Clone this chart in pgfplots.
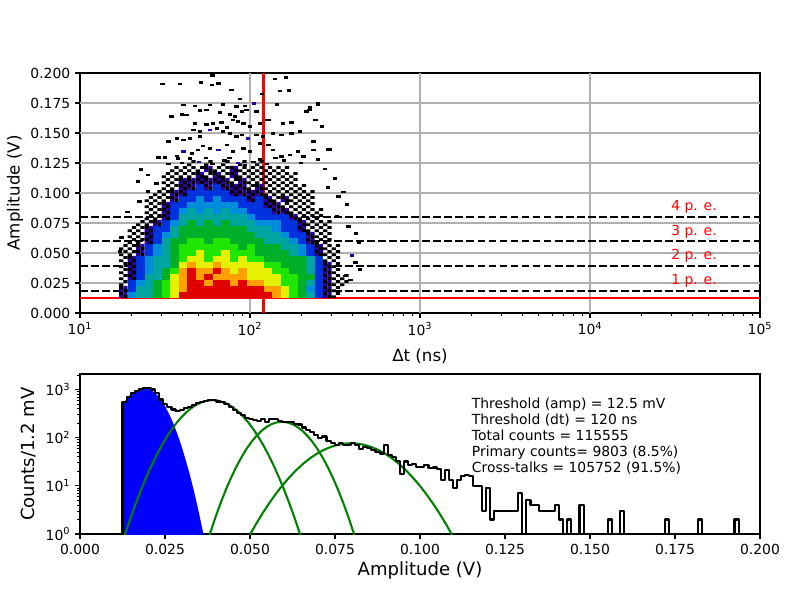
\documentclass[border=0pt]{standalone}
\usepackage{pgfplots}
\pgfplotsset{compat=1.18}
\usepackage{pgfplotstable}
\usepackage{fontspec}
\setmainfont{DejaVu Sans}
\definecolor{gridc}{HTML}{B0B0B0}
\definecolor{mplgreen}{rgb}{0,0.5,0}
\pgfdeclareplotmark{cell}{\pgfpathrectangle{\pgfpoint{-3.1pt}{-2.2pt}}{\pgfpoint{6.2pt}{4.4pt}}\pgfusepathqfill}
\pgfdeclareplotmark{speckle}{\pgfpathrectangle{\pgfpoint{-3.1pt}{-2.2pt}}{\pgfpoint{3.1pt}{2.0pt}}\pgfpathrectangle{\pgfpoint{0pt}{0.1pt}}{\pgfpoint{3.1pt}{2.0pt}}\pgfusepathqfill}
\pgfdeclareplotmark{mix}{\pgfpathrectangle{\pgfpoint{-3.1pt}{-2.2pt}}{\pgfpoint{3.15pt}{2.25pt}}\pgfpathrectangle{\pgfpoint{0pt}{0pt}}{\pgfpoint{3.1pt}{2.2pt}}\pgfusepathqfill
\begin{pgfscope}\pgfsetfillcolor{black}\pgfpathrectangle{\pgfpoint{0pt}{-2.2pt}}{\pgfpoint{3.1pt}{2.25pt}}\pgfpathrectangle{\pgfpoint{-3.1pt}{0pt}}{\pgfpoint{3.15pt}{2.2pt}}\pgfusepathqfill\end{pgfscope}}
\pgfdeclareplotmark{spdash}{\pgfpathrectangle{\pgfpoint{-1.55pt}{-0.88pt}}{\pgfpoint{3.1pt}{1.76pt}}\pgfusepathqfill}

\pgfplotstableread[row sep=\\]{
x y c\\
1.255 0.015 1\\ 1.305 0.015 3\\ 1.355 0.015 4\\ 1.405 0.015 4\\ 1.455 0.015 5\\ 1.505 0.015 6\\ 1.555 0.015 7\\ 1.605 0.015 9\\ 1.655 0.015 9\\ 1.705 0.015 9\\ 1.755 0.015 9\\ 1.805 0.015 9\\ 1.855 0.015 9\\ 1.905 0.015 9\\ 1.955 0.015 9\\ 2.005 0.015 9\\ 2.055 0.015 9\\ 2.105 0.015 9\\ 2.155 0.015 8\\ 2.205 0.015 7\\ 2.255 0.015 6\\ 2.305 0.015 5\\ 2.355 0.015 4\\ 2.405 0.015 2\\ 2.455 0.015 1\\ 2.505 0.015 0\\
1.255 0.020 1\\ 1.305 0.020 2\\ 1.355 0.020 4\\ 1.405 0.020 4\\ 1.455 0.020 5\\ 1.505 0.020 6\\ 1.555 0.020 7\\ 1.605 0.020 8\\ 1.655 0.020 9\\ 1.705 0.020 9\\ 1.755 0.020 9\\ 1.805 0.020 9\\ 1.855 0.020 9\\ 1.905 0.020 9\\ 1.955 0.020 9\\ 2.005 0.020 9\\ 2.055 0.020 9\\ 2.105 0.020 8\\ 2.155 0.020 8\\ 2.205 0.020 7\\ 2.255 0.020 6\\ 2.305 0.020 5\\ 2.355 0.020 3\\ 2.405 0.020 2\\ 2.455 0.020 1\\ 2.505 0.020 0\\
1.255 0.025 0\\ 1.305 0.025 2\\ 1.355 0.025 3\\ 1.405 0.025 4\\ 1.455 0.025 5\\ 1.505 0.025 6\\ 1.555 0.025 7\\ 1.605 0.025 8\\ 1.655 0.025 9\\ 1.705 0.025 9\\ 1.755 0.025 8\\ 1.805 0.025 9\\ 1.855 0.025 9\\ 1.905 0.025 8\\ 1.955 0.025 9\\ 2.005 0.025 8\\ 2.055 0.025 8\\ 2.105 0.025 7\\ 2.155 0.025 7\\ 2.205 0.025 6\\ 2.255 0.025 6\\ 2.305 0.025 5\\ 2.355 0.025 4\\ 2.405 0.025 2\\ 2.455 0.025 1\\ 2.505 0.025 0\\ 2.555 0.025 0\\
1.255 0.030 0\\ 1.305 0.030 1\\ 1.355 0.030 2\\ 1.405 0.030 4\\ 1.455 0.030 4\\ 1.505 0.030 5\\ 1.555 0.030 7\\ 1.605 0.030 8\\ 1.655 0.030 9\\ 1.705 0.030 8\\ 1.755 0.030 9\\ 1.805 0.030 8\\ 1.855 0.030 8\\ 1.905 0.030 8\\ 1.955 0.030 8\\ 2.005 0.030 7\\ 2.055 0.030 7\\ 2.105 0.030 7\\ 2.155 0.030 7\\ 2.205 0.030 6\\ 2.255 0.030 6\\ 2.305 0.030 5\\ 2.355 0.030 5\\ 2.405 0.030 2\\ 2.455 0.030 1\\ 2.505 0.030 0\\ 2.555 0.030 0\\
1.255 0.035 0\\ 1.305 0.035 1\\ 1.355 0.035 2\\ 1.405 0.035 3\\ 1.455 0.035 4\\ 1.505 0.035 5\\ 1.555 0.035 6\\ 1.605 0.035 8\\ 1.655 0.035 9\\ 1.705 0.035 8\\ 1.755 0.035 8\\ 1.805 0.035 9\\ 1.855 0.035 8\\ 1.905 0.035 7\\ 1.955 0.035 8\\ 2.005 0.035 7\\ 2.055 0.035 7\\ 2.105 0.035 7\\ 2.155 0.035 6\\ 2.205 0.035 6\\ 2.255 0.035 5\\ 2.305 0.035 5\\ 2.355 0.035 4\\ 2.405 0.035 2\\ 2.455 0.035 1\\ 2.505 0.035 0\\
1.255 0.040 0\\ 1.305 0.040 1\\ 1.355 0.040 2\\ 1.405 0.040 3\\ 1.455 0.040 4\\ 1.505 0.040 4\\ 1.555 0.040 5\\ 1.605 0.040 7\\ 1.655 0.040 8\\ 1.705 0.040 7\\ 1.755 0.040 7\\ 1.805 0.040 8\\ 1.855 0.040 7\\ 1.905 0.040 7\\ 1.955 0.040 7\\ 2.005 0.040 7\\ 2.055 0.040 7\\ 2.105 0.040 6\\ 2.155 0.040 6\\ 2.205 0.040 5\\ 2.255 0.040 5\\ 2.305 0.040 5\\ 2.355 0.040 4\\ 2.405 0.040 2\\ 2.455 0.040 1\\ 2.505 0.040 0\\
1.255 0.045 0\\ 1.305 0.045 1\\ 1.355 0.045 2\\ 1.405 0.045 3\\ 1.455 0.045 4\\ 1.505 0.045 4\\ 1.555 0.045 5\\ 1.605 0.045 6\\ 1.655 0.045 7\\ 1.705 0.045 7\\ 1.755 0.045 6\\ 1.805 0.045 7\\ 1.855 0.045 7\\ 1.905 0.045 6\\ 1.955 0.045 7\\ 2.005 0.045 6\\ 2.055 0.045 6\\ 2.105 0.045 5\\ 2.155 0.045 5\\ 2.205 0.045 5\\ 2.255 0.045 5\\ 2.305 0.045 5\\ 2.355 0.045 4\\ 2.405 0.045 2\\ 2.455 0.045 0\\ 2.505 0.045 0\\
1.255 0.050 0\\ 1.305 0.050 0\\ 1.355 0.050 1\\ 1.405 0.050 2\\ 1.455 0.050 3\\ 1.505 0.050 4\\ 1.555 0.050 5\\ 1.605 0.050 6\\ 1.655 0.050 6\\ 1.705 0.050 7\\ 1.755 0.050 6\\ 1.805 0.050 6\\ 1.855 0.050 7\\ 1.905 0.050 6\\ 1.955 0.050 6\\ 2.005 0.050 6\\ 2.055 0.050 5\\ 2.105 0.050 5\\ 2.155 0.050 5\\ 2.205 0.050 5\\ 2.255 0.050 4\\ 2.305 0.050 3\\ 2.355 0.050 2\\ 2.405 0.050 1\\ 2.455 0.050 0\\ 2.505 0.050 0\\
1.255 0.055 0\\ 1.305 0.055 0\\ 1.355 0.055 1\\ 1.405 0.055 2\\ 1.455 0.055 3\\ 1.505 0.055 4\\ 1.555 0.055 5\\ 1.605 0.055 6\\ 1.655 0.055 6\\ 1.705 0.055 6\\ 1.755 0.055 6\\ 1.805 0.055 6\\ 1.855 0.055 6\\ 1.905 0.055 6\\ 1.955 0.055 5\\ 2.005 0.055 6\\ 2.055 0.055 5\\ 2.105 0.055 5\\ 2.155 0.055 5\\ 2.205 0.055 4\\ 2.255 0.055 4\\ 2.305 0.055 3\\ 2.355 0.055 2\\ 2.405 0.055 1\\ 2.455 0.055 0\\ 2.505 0.055 0\\
1.305 0.060 0\\ 1.355 0.060 0\\ 1.405 0.060 1\\ 1.455 0.060 2\\ 1.505 0.060 4\\ 1.555 0.060 5\\ 1.605 0.060 5\\ 1.655 0.060 6\\ 1.705 0.060 6\\ 1.755 0.060 5\\ 1.805 0.060 6\\ 1.855 0.060 6\\ 1.905 0.060 5\\ 1.955 0.060 5\\ 2.005 0.060 5\\ 2.055 0.060 5\\ 2.105 0.060 4\\ 2.155 0.060 4\\ 2.205 0.060 4\\ 2.255 0.060 3\\ 2.305 0.060 2\\ 2.355 0.060 1\\ 2.405 0.060 0\\ 2.455 0.060 0\\
1.305 0.065 0\\ 1.355 0.065 0\\ 1.405 0.065 1\\ 1.455 0.065 2\\ 1.505 0.065 3\\ 1.555 0.065 4\\ 1.605 0.065 5\\ 1.655 0.065 5\\ 1.705 0.065 5\\ 1.755 0.065 5\\ 1.805 0.065 5\\ 1.855 0.065 5\\ 1.905 0.065 5\\ 1.955 0.065 5\\ 2.005 0.065 5\\ 2.055 0.065 4\\ 2.105 0.065 4\\ 2.155 0.065 4\\ 2.205 0.065 3\\ 2.255 0.065 2\\ 2.305 0.065 2\\ 2.355 0.065 1\\ 2.405 0.065 0\\ 2.455 0.065 0\\
1.305 0.070 0\\ 1.355 0.070 0\\ 1.405 0.070 1\\ 1.455 0.070 2\\ 1.505 0.070 2\\ 1.555 0.070 4\\ 1.605 0.070 5\\ 1.655 0.070 5\\ 1.705 0.070 5\\ 1.755 0.070 5\\ 1.805 0.070 5\\ 1.855 0.070 5\\ 1.905 0.070 5\\ 1.955 0.070 5\\ 2.005 0.070 4\\ 2.055 0.070 4\\ 2.105 0.070 4\\ 2.155 0.070 3\\ 2.205 0.070 2\\ 2.255 0.070 2\\ 2.305 0.070 1\\ 2.355 0.070 0\\ 2.405 0.070 0\\ 2.455 0.070 0\\
1.355 0.075 0\\ 1.405 0.075 0\\ 1.455 0.075 1\\ 1.505 0.075 2\\ 1.555 0.075 3\\ 1.605 0.075 4\\ 1.655 0.075 5\\ 1.705 0.075 4\\ 1.755 0.075 5\\ 1.805 0.075 4\\ 1.855 0.075 5\\ 1.905 0.075 4\\ 1.955 0.075 4\\ 2.005 0.075 4\\ 2.055 0.075 3\\ 2.105 0.075 3\\ 2.155 0.075 3\\ 2.205 0.075 2\\ 2.255 0.075 2\\ 2.305 0.075 1\\ 2.355 0.075 0\\ 2.405 0.075 0\\ 2.455 0.075 0\\
1.405 0.080 0\\ 1.455 0.080 0\\ 1.505 0.080 1\\ 1.555 0.080 2\\ 1.605 0.080 4\\ 1.655 0.080 4\\ 1.705 0.080 4\\ 1.755 0.080 4\\ 1.805 0.080 4\\ 1.855 0.080 4\\ 1.905 0.080 4\\ 1.955 0.080 4\\ 2.005 0.080 3\\ 2.055 0.080 2\\ 2.105 0.080 2\\ 2.155 0.080 2\\ 2.205 0.080 2\\ 2.255 0.080 1\\ 2.305 0.080 0\\ 2.355 0.080 0\\ 2.405 0.080 0\\
1.405 0.085 0\\ 1.455 0.085 0\\ 1.505 0.085 1\\ 1.555 0.085 2\\ 1.605 0.085 3\\ 1.655 0.085 4\\ 1.705 0.085 3\\ 1.755 0.085 4\\ 1.805 0.085 3\\ 1.855 0.085 4\\ 1.905 0.085 3\\ 1.955 0.085 3\\ 2.005 0.085 2\\ 2.055 0.085 2\\ 2.105 0.085 2\\ 2.155 0.085 1\\ 2.205 0.085 1\\ 2.255 0.085 0\\ 2.305 0.085 0\\ 2.355 0.085 0\\ 2.405 0.085 0\\
1.405 0.090 0\\ 1.455 0.090 0\\ 1.505 0.090 1\\ 1.555 0.090 2\\ 1.605 0.090 2\\ 1.655 0.090 3\\ 1.705 0.090 3\\ 1.755 0.090 3\\ 1.805 0.090 3\\ 1.855 0.090 3\\ 1.905 0.090 3\\ 1.955 0.090 2\\ 2.005 0.090 2\\ 2.055 0.090 2\\ 2.105 0.090 1\\ 2.155 0.090 1\\ 2.205 0.090 0\\ 2.255 0.090 0\\ 2.305 0.090 0\\ 2.355 0.090 0\\
1.405 0.095 0\\ 1.455 0.095 0\\ 1.505 0.095 0\\ 1.555 0.095 1\\ 1.605 0.095 2\\ 1.655 0.095 2\\ 1.705 0.095 3\\ 1.755 0.095 2\\ 1.805 0.095 3\\ 1.855 0.095 2\\ 1.905 0.095 2\\ 1.955 0.095 2\\ 2.005 0.095 1\\ 2.055 0.095 2\\ 2.105 0.095 1\\ 2.155 0.095 0\\ 2.205 0.095 1\\ 2.255 0.095 0\\ 2.305 0.095 0\\ 2.355 0.095 0\\
1.455 0.100 0\\ 1.505 0.100 0\\ 1.555 0.100 1\\ 1.605 0.100 1\\ 1.655 0.100 2\\ 1.705 0.100 2\\ 1.755 0.100 2\\ 1.805 0.100 2\\ 1.855 0.100 2\\ 1.905 0.100 1\\ 1.955 0.100 1\\ 2.005 0.100 1\\ 2.055 0.100 1\\ 2.105 0.100 0\\ 2.155 0.100 0\\ 2.205 0.100 0\\ 2.255 0.100 0\\ 2.305 0.100 0\\ 2.355 0.100 0\\
1.505 0.105 0\\ 1.555 0.105 0\\ 1.605 0.105 1\\ 1.655 0.105 1\\ 1.705 0.105 2\\ 1.755 0.105 1\\ 1.805 0.105 2\\ 1.855 0.105 1\\ 1.905 0.105 1\\ 1.955 0.105 1\\ 2.005 0.105 0\\ 2.055 0.105 1\\ 2.105 0.105 0\\ 2.155 0.105 0\\ 2.205 0.105 0\\ 2.255 0.105 0\\ 2.305 0.105 0\\
1.505 0.110 0\\ 1.555 0.110 0\\ 1.605 0.110 1\\ 1.655 0.110 1\\ 1.705 0.110 1\\ 1.755 0.110 1\\ 1.805 0.110 1\\ 1.855 0.110 1\\ 1.905 0.110 0\\ 1.955 0.110 1\\ 2.005 0.110 0\\ 2.055 0.110 0\\ 2.105 0.110 0\\ 2.155 0.110 0\\ 2.205 0.110 0\\ 2.255 0.110 0\\
1.505 0.115 0\\ 1.555 0.115 0\\ 1.605 0.115 0\\ 1.655 0.115 0\\ 1.705 0.115 1\\ 1.755 0.115 0\\ 1.805 0.115 1\\ 1.855 0.115 0\\ 1.905 0.115 1\\ 1.955 0.115 0\\ 2.005 0.115 0\\ 2.055 0.115 0\\ 2.105 0.115 0\\ 2.155 0.115 0\\ 2.205 0.115 0\\ 2.255 0.115 0\\
1.555 0.120 0\\ 1.605 0.120 0\\ 1.655 0.120 0\\ 1.705 0.120 0\\ 1.755 0.120 1\\ 1.805 0.120 0\\ 1.855 0.120 0\\ 1.905 0.120 1\\ 1.955 0.120 0\\ 2.005 0.120 0\\ 2.055 0.120 0\\ 2.105 0.120 0\\ 2.155 0.120 0\\ 2.205 0.120 0\\
1.655 0.125 0\\ 1.755 0.125 0\\ 1.855 0.125 0\\ 1.955 0.125 0\\ 2.055 0.125 0\\
}\hm

\pgfplotstableread[row sep=\\]{
x y c\\
1.780 0.1978 0\\ 2.147 0.1950 0\\ 2.210 0.1964 0\\ 1.486 0.1908 0\\ 1.588 0.1908 0\\ 1.712 0.1919 0\\ 1.778 0.1900 0\\ 1.814 0.1914 0\\ 1.892 0.1858 0\\ 2.176 0.1850 0\\ 2.229 0.1853 0\\ 2.069 0.1825 0\\ 1.941 0.1783 0\\
1.608 0.1733 0\\ 1.676 0.1725 0\\ 1.765 0.1733 0\\ 1.843 0.1739 0\\ 1.921 0.1719 0\\ 1.971 0.1725 0\\ 2.023 0.1747 1\\ 2.157 0.1739 0\\ 2.353 0.1714 0\\ 2.402 0.1739 0\\
1.598 0.1656 0\\ 1.706 0.1686 0\\ 1.745 0.1692 0\\ 1.823 0.1669 0\\ 1.882 0.1656 0\\ 1.912 0.1636 0\\ 1.951 0.1678 0\\ 1.980 0.1692 0\\ 2.039 0.1678 0\\ 2.098 0.1608 0\\ 2.196 0.1581 0\\ 2.245 0.1589 0\\ 2.333 0.1678 0\\ 2.382 0.1608 0\\ 2.422 0.1553 0\\
1.539 0.1636 0\\ 1.627 0.1650 0\\ 1.676 0.1581 0\\ 1.745 0.1572 0\\ 1.784 0.1581 0\\ 1.833 0.1586 0\\ 1.863 0.1547 0\\ 1.902 0.1608 0\\ 1.931 0.1594 0\\ 1.961 0.1581 0\\ 2.000 0.1553 0\\ 2.059 0.1581 0\\ 2.108 0.1608 0\\ 2.294 0.1511 0\\
1.667 0.1525 0\\ 1.706 0.1511 0\\ 1.765 0.1525 1\\ 1.804 0.1539 0\\ 1.843 0.1511 0\\ 1.882 0.1497 0\\ 1.921 0.1469 0\\ 1.951 0.1483 0\\ 1.990 0.1456 1\\ 2.039 0.1483 0\\ 2.078 0.1469 0\\ 2.137 0.1497 0\\ 2.186 0.1483 0\\ 2.245 0.1497 0\\ 2.373 0.1428 0\\ 2.470 0.1364 0\\
1.520 0.1428 0\\ 1.569 0.1456 0\\ 1.608 0.1442 0\\ 1.647 0.1456 0\\ 1.706 0.1469 0\\ 1.461 0.1297 0\\ 1.500 0.1297 0\\ 1.569 0.1308 0\\ 1.608 0.1344 1\\ 1.657 0.1331 0\\ 1.696 0.1358 0\\ 1.725 0.1392 0\\ 1.765 0.1372 0\\ 1.814 0.1358 1\\ 1.863 0.1400 0\\ 1.902 0.1344 0\\ 1.961 0.1372 0\\ 2.000 0.1344 0\\ 2.059 0.1414 0\\ 2.108 0.1400 0\\ 2.137 0.1358 0\\ 2.186 0.1303 0\\ 2.235 0.1317 0\\ 2.284 0.1344 0\\ 2.314 0.1303 0\\ 2.373 0.1358 0\\ 1.647 0.1289 0\\ 1.578 0.1289 0\\
1.600 0.1250 0\\ 1.700 0.1260 1\\ 1.780 0.1240 0\\ 1.850 0.1270 0\\ 1.930 0.1250 1\\ 2.020 0.1260 0\\ 2.100 0.1240 0\\ 2.200 0.1270 0\\ 2.300 0.1250 0\\ 1.520 0.1240 0\\ 2.400 0.1280 0\\ 1.740 0.1235 0\\ 1.970 0.1235 0\\ 2.060 0.1280 0\\ 1.880 0.1290 0\\ 1.740 0.1290 0\\ 2.150 0.1290 0\\
1.245 0.0630 0\\ 1.235 0.0511 0\\ 1.360 0.1197 0\\ 1.343 0.1094 0\\ 1.400 0.1011 0\\ 2.569 0.0906 0\\ 2.520 0.0970 0\\ 2.623 0.0664 0\\ 2.641 0.0586 0\\ 2.647 0.0364 0\\ 2.592 0.0275 0\\ 2.560 0.0310 0\\ 2.510 0.0803 0\\ 2.460 0.1044 0\\ 2.460 0.1364 0\\ 2.400 0.1747 0\\ 2.390 0.1610 0\\ 2.350 0.1690 0\\ 2.370 0.1427 0\\ 2.550 0.1010 0\\ 2.500 0.1120 0\\ 2.440 0.1200 0\\ 1.400 0.1150 0\\ 1.280 0.0840 0\\ 2.600 0.0480 1\\ 2.580 0.0720 0\\ 1.350 0.0930 0\\ 1.450 0.1080 0\\ 2.620 0.0420 0\\
}\sparse

\begin{document}
\begin{tikzpicture}
\path[use as bounding box] (0,0) rectangle (576pt,432pt);
\pgfplotsset{
  mplstyle/.style={
    scale only axis, anchor=south west, width=489.6pt,
    tick pos=left, tick align=outside,
    major tick length=3.5pt, minor tick length=2pt,
    tick style={black, line width=0.8pt},
    minor tick style={black, line width=0.6pt},
    axis line style={line width=0.8pt},
    tick label style={font=\fontsize{10}{12}\selectfont},
    /pgf/number format/assume math mode=true,
  }
}
\begin{axis}[mplstyle,
  at={(57.6pt,206.64pt)}, height=172.8pt,
  xmin=1, xmax=5, ymin=0, ymax=0.2,
  xtick={1,2,3,4,5},
  xticklabels={10\textsuperscript{1},10\textsuperscript{2},10\textsuperscript{3},10\textsuperscript{4},10\textsuperscript{5}},
  minor xtick={1.301,1.477,1.602,1.699,1.778,1.845,1.903,1.954,2.301,2.477,2.602,2.699,2.778,2.845,2.903,2.954,3.301,3.477,3.602,3.699,3.778,3.845,3.903,3.954,4.301,4.477,4.602,4.699,4.778,4.845,4.903,4.954},
  ytick={0,0.025,0.05,0.075,0.1,0.125,0.15,0.175,0.2},
  yticklabel style={/pgf/number format/fixed,/pgf/number format/fixed zerofill,/pgf/number format/precision=3},
  xlabel={Δt (ns)}, ylabel={Amplitude (V)},
  label style={font=\fontsize{12}{14}\selectfont},
  xlabel style={at={(axis description cs:0.5,-0.179)}, anchor=center},
  ylabel style={at={(axis description cs:-0.0956,0.5)}, anchor=center},
  colormap={hm}{rgb255=(0,0,0) rgb255=(45,0,160) rgb255=(0,50,221) rgb255=(0,140,221) rgb255=(0,165,160) rgb255=(0,175,40) rgb255=(30,230,0) rgb255=(230,240,0) rgb255=(255,160,0) rgb255=(225,0,0)},
  point meta min=0, point meta max=9,
]
\addplot[scatter, only marks, mark=cell, point meta=explicit, restrict expr to domain={\thisrow{c}}{1.5:10}, scatter/use mapped color={draw=mapped color, fill=mapped color}] table[x=x, y=y, meta=c] {\hm};
\addplot[scatter, only marks, mark=mix, point meta=explicit, restrict expr to domain={\thisrow{c}}{0.5:1.5}, scatter/use mapped color={draw=mapped color, fill=mapped color}] table[x=x, y=y, meta=c] {\hm};
\addplot[only marks, mark=speckle, black, restrict expr to domain={\thisrow{c}}{-1:0.5}] table[x=x, y=y] {\hm};
\addplot[scatter, only marks, mark=spdash, point meta=explicit, scatter/use mapped color={draw=mapped color, fill=mapped color}] table[x=x, y=y, meta=c] {\sparse};
% grid
\addplot[gridc, line width=0.8pt] coordinates {(1,0.025) (5,0.025)};
\addplot[gridc, line width=0.8pt] coordinates {(1,0.05) (5,0.05)};
\addplot[gridc, line width=0.8pt] coordinates {(1,0.075) (5,0.075)};
\addplot[gridc, line width=0.8pt] coordinates {(1,0.1) (5,0.1)};
\addplot[gridc, line width=0.8pt] coordinates {(1,0.125) (5,0.125)};
\addplot[gridc, line width=0.8pt] coordinates {(1,0.15) (5,0.15)};
\addplot[gridc, line width=0.8pt] coordinates {(1,0.175) (5,0.175)};
\addplot[gridc, line width=0.8pt] coordinates {(2,0) (2,0.2)};
\addplot[gridc, line width=0.8pt] coordinates {(3,0) (3,0.2)};
\addplot[gridc, line width=0.8pt] coordinates {(4,0) (4,0.2)};
% p.e. levels
\addplot[black, line width=1.5pt, dash pattern=on 5.55pt off 2.4pt] coordinates {(1,0.0186) (5,0.0186)};
\addplot[black, line width=1.5pt, dash pattern=on 5.55pt off 2.4pt] coordinates {(1,0.0392) (5,0.0392)};
\addplot[black, line width=1.5pt, dash pattern=on 5.55pt off 2.4pt] coordinates {(1,0.0600) (5,0.0600)};
\addplot[black, line width=1.5pt, dash pattern=on 5.55pt off 2.4pt] coordinates {(1,0.0803) (5,0.0803)};
% thresholds
\addplot[red, line width=1.8pt] coordinates {(1,0.0125) (5,0.0125)};
\addplot[red, line width=1.8pt] coordinates {(2.0792,0) (2.0792,0.2)};
\node[red, anchor=base west, inner sep=0pt, font=\fontsize{10}{12}\selectfont] at (axis cs:4.477,0.0236) {1 p. e.};
\node[red, anchor=base west, inner sep=0pt, font=\fontsize{10}{12}\selectfont] at (axis cs:4.477,0.0442) {2 p. e.};
\node[red, anchor=base west, inner sep=0pt, font=\fontsize{10}{12}\selectfont] at (axis cs:4.477,0.0650) {3 p. e.};
\node[red, anchor=base west, inner sep=0pt, font=\fontsize{10}{12}\selectfont] at (axis cs:4.477,0.0853) {4 p. e.};
\end{axis}

\begin{axis}[mplstyle,
  at={(57.6pt,47.52pt)}, height=115.2pt,
  xmin=0, xmax=0.2, ymode=log, ymin=1, ymax=2100,
  xtick={0,0.025,0.05,0.075,0.1,0.125,0.15,0.175,0.2},
  xticklabel style={/pgf/number format/fixed,/pgf/number format/fixed zerofill,/pgf/number format/precision=3},
  ytick={1,10,100,1000},
  yticklabels={10\textsuperscript{0},10\textsuperscript{1},10\textsuperscript{2},10\textsuperscript{3}},
  minor ytick={2,3,4,5,6,7,8,9,20,30,40,50,60,70,80,90,200,300,400,500,600,700,800,900,2000},
  xlabel={Amplitude (V)}, ylabel={Counts/1.2 mV},
  label style={font=\fontsize{13}{15}\selectfont},
  xlabel style={at={(axis description cs:0.5,-0.231)}, anchor=center},
  ylabel style={at={(axis description cs:-0.0757,0.5)}, anchor=center},
]
\addplot[fill=blue, draw=none] coordinates {
(0.01226,0.5) (0.01226,470) (0.0130,545) (0.0140,680) (0.0150,800) (0.0160,880) (0.0170,960) (0.0180,1020) (0.0190,1055) (0.0200,1040) (0.0210,970) (0.0220,850) (0.0230,719) (0.0240,582) (0.0250,450) (0.0260,332) (0.0270,234) (0.0280,157) (0.0290,101) (0.0300,62) (0.0310,36) (0.0320,20.4) (0.0330,10.9) (0.0340,5.6) (0.0350,2.71) (0.0360,1.26) (0.0365,0.85) (0.0368,0.5)
} -- cycle;
\addplot[mplgreen, line width=1.5pt] coordinates {
(0.012,0.516) (0.0135,1.106) (0.015,2.27) (0.0165,4.46) (0.018,8.40) (0.0195,15.1) (0.021,26.1) (0.0225,43.1) (0.024,68.1) (0.0255,103.1) (0.027,149.3) (0.0285,207.1) (0.030,274.9) (0.0315,349.4) (0.033,425.2) (0.0345,495.3) (0.036,552.1) (0.0375,589.6) (0.039,602.6) (0.0405,589.6) (0.042,552.1) (0.0435,495.3) (0.045,425.2) (0.0465,349.4) (0.048,274.9) (0.0495,207.1) (0.051,149.3) (0.0525,103.1) (0.054,68.1) (0.0555,43.1) (0.057,26.1) (0.0585,15.1) (0.060,8.40) (0.0615,4.46) (0.063,2.27) (0.0645,1.106) (0.066,0.516)
};
\addplot[mplgreen, line width=1.5pt] coordinates {
(0.0369,0.508) (0.0384,1.107) (0.0399,2.29) (0.0414,4.47) (0.0429,8.30) (0.0444,14.58) (0.0459,24.3) (0.0474,38.3) (0.0489,57.4) (0.0504,81.3) (0.0519,109.3) (0.0534,139.1) (0.0549,167.9) (0.0564,192.0) (0.0579,208.1) (0.0594,213.8) (0.0609,208.1) (0.0624,192.0) (0.0639,167.9) (0.0654,139.1) (0.0669,109.3) (0.0684,81.3) (0.0699,57.4) (0.0714,38.3) (0.0729,24.3) (0.0744,14.58) (0.0759,8.30) (0.0774,4.47) (0.0789,2.29) (0.0804,1.107) (0.0819,0.508)
};
\addplot[mplgreen, line width=1.5pt] coordinates {
(0.0477,0.481) (0.0497,0.889) (0.0517,1.579) (0.0537,2.70) (0.0557,4.42) (0.0577,6.97) (0.0597,10.57) (0.0617,15.39) (0.0637,21.56) (0.0657,29.01) (0.0677,37.53) (0.0697,46.67) (0.0717,55.78) (0.0737,64.07) (0.0757,70.73) (0.0777,75.07) (0.0797,76.6) (0.0817,75.07) (0.0837,70.73) (0.0857,64.07) (0.0877,55.78) (0.0897,46.67) (0.0917,37.53) (0.0937,29.01) (0.0957,21.56) (0.0977,15.39) (0.0997,10.57) (0.1017,6.97) (0.1037,4.42) (0.1057,2.70) (0.1077,1.579) (0.1097,0.889) (0.1117,0.481)
};
\addplot[black, line width=1.5pt, const plot, line join=round] coordinates {
(0.0125,0.5) (0.0125,560) (0.0137,700) (0.0149,850) (0.0161,930) (0.0173,1030) (0.0185,1080) (0.0197,1090) (0.0209,1000) (0.0221,830) (0.0233,620) (0.0245,500) (0.0257,430) (0.0269,385) (0.0281,365) (0.0293,380) (0.0305,405) (0.0317,440) (0.0329,480) (0.0341,525) (0.0353,560) (0.0365,585) (0.0377,605) (0.0389,600) (0.0401,565) (0.0413,540) (0.0425,500) (0.0437,440) (0.0449,375) (0.0461,330) (0.0473,290) (0.0485,255) (0.0497,240) (0.0509,232) (0.0521,225) (0.0533,245) (0.0545,210) (0.0557,240) (0.0569,240) (0.0581,225) (0.0593,215) (0.0605,215) (0.0617,212) (0.0629,195) (0.0641,188) (0.0653,163) (0.0665,145) (0.0677,133) (0.0689,114) (0.0701,100) (0.0713,106) (0.0725,87) (0.0737,78) (0.0749,72) (0.0761,77) (0.0773,71) (0.0785,72) (0.0797,79) (0.0809,70) (0.0821,58) (0.0833,64) (0.0845,60) (0.0857,55) (0.0869,50) (0.0881,47) (0.0893,70) (0.0905,44) (0.0917,40) (0.0929,33) (0.0941,18) (0.0953,32) (0.0965,27) (0.0977,28) (0.0989,25) (0.1001,25) (0.1013,27) (0.1025,23) (0.1037,24) (0.1049,22) (0.1061,13) (0.1073,21) (0.1085,13) (0.1097,9) (0.1109,13) (0.1121,16) (0.1133,17) (0.1145,16) (0.1157,10) (0.1169,10) (0.1181,3) (0.1193,9) (0.1205,2) (0.1217,3) (0.1229,3) (0.1241,3) (0.1253,3) (0.1265,3) (0.1277,3) (0.1289,7) (0.1301,0.5) (0.1313,5) (0.1325,4) (0.1337,4) (0.1349,3) (0.1361,3) (0.1373,3) (0.1385,3) (0.1397,4) (0.1409,2) (0.1421,0.5) (0.1433,2) (0.1445,0.5) (0.1469,4) (0.1481,0.5) (0.1505,1) (0.1517,1) (0.1529,1) (0.1541,0.5) (0.1553,2) (0.1565,0.5) (0.1589,3) (0.1601,0.5) (0.1649,1) (0.1661,1) (0.1673,0.5) (0.1697,1) (0.1709,0.5) (0.1721,2) (0.1733,0.5) (0.1817,2) (0.1829,1) (0.1841,0.5) (0.1925,2) (0.1937,0.5) (0.1997,0.5)
};
\end{axis}
\begin{scope}[font=\fontsize{10}{12}\selectfont]
\node[anchor=base west, inner sep=0pt] at (339.6pt,138.02pt) {Threshold (amp) = 12.5 mV};
\node[anchor=base west, inner sep=0pt] at (339.6pt,126.43pt) {Threshold (dt) = 120 ns};
\node[anchor=base west, inner sep=0pt] at (339.6pt,114.84pt) {Total counts = 115555};
\node[anchor=base west, inner sep=0pt] at (339.6pt,103.25pt) {Primary counts= 9803 (8.5\%)};
\node[anchor=base west, inner sep=0pt] at (339.6pt,91.66pt) {Cross-talks = 105752 (91.5\%)};
\end{scope}
\end{tikzpicture}
\end{document}
